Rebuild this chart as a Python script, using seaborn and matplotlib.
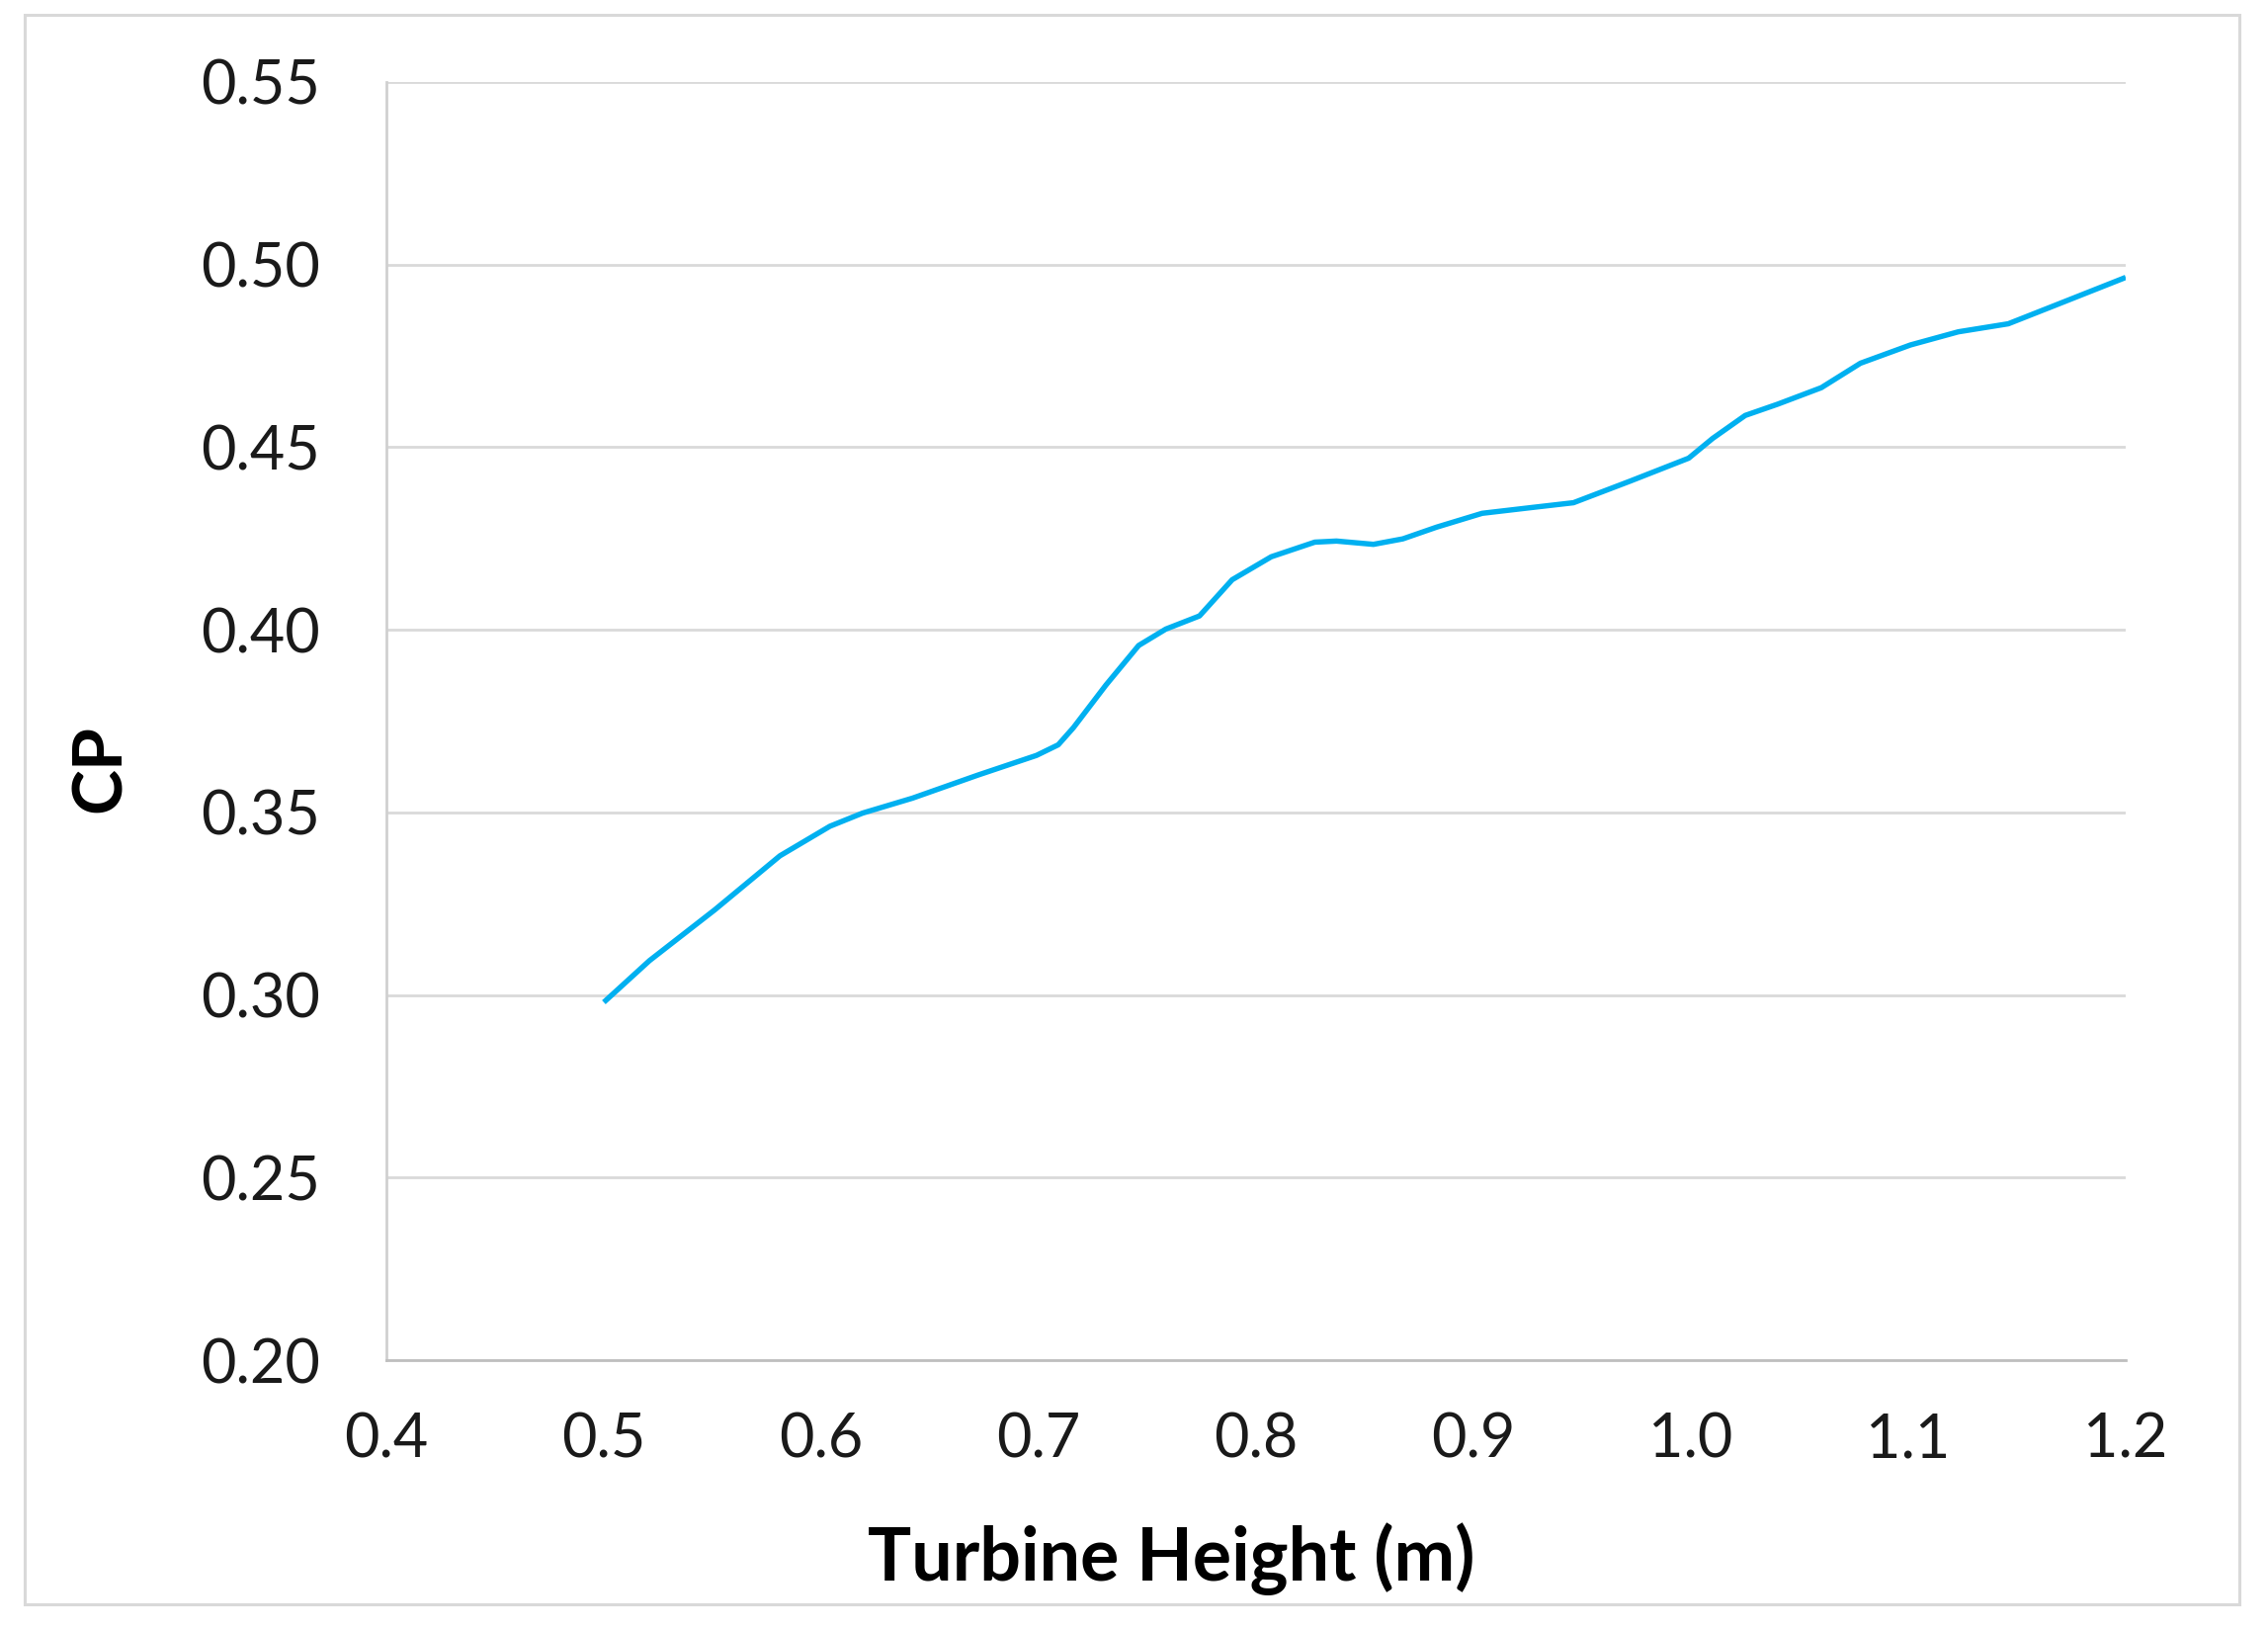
import matplotlib
matplotlib.use("Agg")
import matplotlib.pyplot as plt
import seaborn as sns
import pandas as pd
from matplotlib.patches import Rectangle

# Data
turbine_height = [0.500, 0.521, 0.551, 0.581, 0.604, 0.619, 0.642, 0.672, 0.699, 0.709,
                  0.716, 0.731, 0.746, 0.7585, 0.774, 0.789, 0.807, 0.827, 0.837, 0.854,
                  0.8675, 0.883, 0.904, 0.927, 0.946, 0.972, 0.999, 1.010, 1.025, 1.040,
                  1.060, 1.078, 1.101, 1.123, 1.146, 1.169, 1.200]
cp_values = [0.2980, 0.3094, 0.3233, 0.3381, 0.3462, 0.3498, 0.3539, 0.3602, 0.3656, 0.3685,
             0.3732, 0.3849, 0.3957, 0.4002, 0.4038, 0.4137, 0.4200, 0.4240, 0.4243, 0.4234,
             0.4249, 0.4281, 0.4319, 0.4335, 0.4348, 0.4407, 0.4470, 0.4524, 0.4587, 0.4618,
             0.4663, 0.4730, 0.4780, 0.4816, 0.4838, 0.4892, 0.4965]
x_ticks = [0.4, 0.5, 0.6, 0.7, 0.8, 0.9, 1.0, 1.1, 1.2]
x_tick_labels = ["0.4", "0.5", "0.6", "0.7", "0.8", "0.9", "1.0", "1.1", "1.2"]
y_ticks = [0.20, 0.25, 0.30, 0.35, 0.40, 0.45, 0.50, 0.55]
y_tick_labels = ["0.20", "0.25", "0.30", "0.35", "0.40", "0.45", "0.50", "0.55"]

df = pd.DataFrame({"Turbine Height (m)": turbine_height, "CP": cp_values})

sns.set_theme(style="white")
plt.rcParams["font.family"] = ["Lato", "DejaVu Sans"]

W, H = 2295, 1648
fig = plt.figure(figsize=(W / 100, H / 100), dpi=100)
left, right, top, bottom = 391, 2151, 83, 1376
ax = fig.add_axes([left / W, 1 - bottom / H, (right - left) / W, (bottom - top) / H])

sns.lineplot(data=df, x="Turbine Height (m)", y="CP", ax=ax, color="#00b0f0",
             linewidth=3.9, solid_joinstyle="round", solid_capstyle="butt")

ax.set_xlim(0.4, 1.2)
ax.set_ylim(0.20, 0.55)
ax.set_xticks(x_ticks)
ax.set_xticklabels(x_tick_labels)
ax.set_yticks(y_ticks)
ax.set_yticklabels(y_tick_labels)
ax.tick_params(axis="both", length=0, labelsize=44, colors="#1a1a1a")
ax.tick_params(axis="y", pad=48)
ax.tick_params(axis="x", pad=38)

ax.grid(axis="y", color="#d9d9d9", linewidth=2.0)
ax.grid(axis="x", visible=False)
ax.set_axisbelow(True)

for s in ["top", "right"]:
    ax.spines[s].set_visible(False)
ax.spines["left"].set_color("#d0d0d0")
ax.spines["left"].set_linewidth(2.0)
ax.spines["bottom"].set_color("#bfbfbf")
ax.spines["bottom"].set_linewidth(2.0)

ax.set_xlabel("Turbine Height (m)", fontsize=53, fontweight="bold", color="black", va="center")
ax.xaxis.set_label_coords((1185 - left) / (right - left), (bottom - 1577) / (bottom - top))
ax.set_ylabel("CP", fontsize=50, fontweight="bold", color="black", va="center")
ax.yaxis.set_label_coords((102 - left) / (right - left), (bottom - 778) / (bottom - top))

# Outer chart-area border
fig.patches.append(Rectangle((25 / W, 1 - 1623 / H), (2266 - 25) / W, (1623 - 15) / H,
                             transform=fig.transFigure, fill=False,
                             edgecolor="#d9d9d9", linewidth=2.2, zorder=0))

fig.savefig("out.png", dpi=100, facecolor="white")
